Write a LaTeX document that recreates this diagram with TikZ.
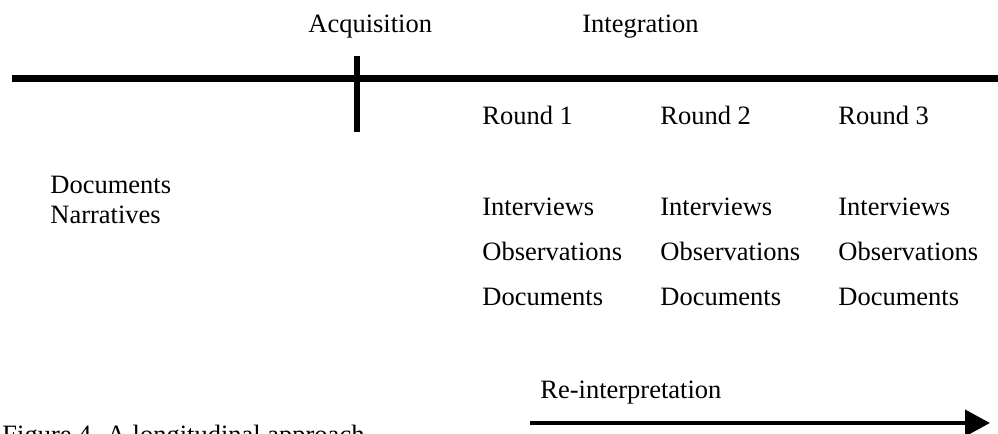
\documentclass[tikz,border=0pt]{standalone}
\usepackage{fontspec}
\setmainfont{Liberation Serif}
\usetikzlibrary{arrows.meta}
\begin{document}
\begin{tikzpicture}[x=0.5pt,y=-0.5pt,
  txt/.style={anchor=base west,inner sep=0pt,font=\fontsize{13.25}{15.9}\selectfont}]
  % 画布
  \useasboundingbox (0,0) rectangle (998,434);
  \clip (0,0) rectangle (998,434);

  % 时间轴
  \coordinate (tlStart) at (12,78.5);
  \coordinate (tlEnd) at (1000,78.5);
  \draw[line width=3.5pt] (tlStart) -- (tlEnd);
  \coordinate (tickTop) at (357,56);
  \coordinate (tickBot) at (357,132);
  \draw[line width=3pt] (tickTop) -- (tickBot);

  % 阶段
  \node[txt] (acq) at (308,32) {Acquisition};
  \node[txt] (integ) at (582,32) {Integration};

  % 左侧
  \node[txt] (docs0) at (50,193) {Documents};
  \node[txt] (narr0) at (50,223) {Narratives};

  % 三轮
  \foreach \i/\x in {1/482,2/660,3/838} {
    \node[txt] (round\i) at (\x,124) {Round \i};
    \node[txt] (intv\i) at (\x,215) {Interviews};
    \node[txt] (obs\i) at (\x,260) {Observations};
    \node[txt] (docs\i) at (\x,305) {Documents};
  }

  % 再解释
  \node[txt] (reint) at (540,398) {Re-interpretation};
  \coordinate (arrStart) at (530,423);
  \coordinate (arrEnd) at (990,423);
  \draw[line width=2pt,-{Triangle[length=12.5pt,width=13pt]}] (arrStart) -- (arrEnd);

  % 图题
  \node[txt] (cap) at (2,443) {Figure 4. A longitudinal approach};
\end{tikzpicture}
\end{document}
